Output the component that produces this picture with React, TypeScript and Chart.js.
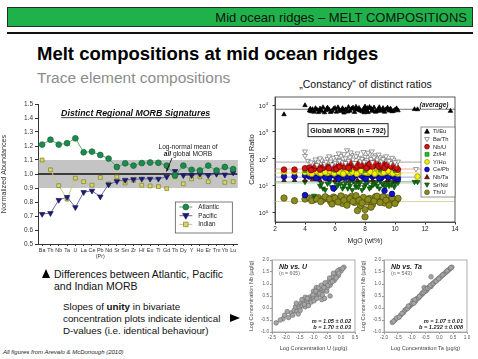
import React, { useEffect, useRef } from 'react';
import { Chart, registerables } from 'chart.js';

Chart.register(...registerables);

const FONT = '"Liberation Sans", Arial, Helvetica, sans-serif';
Chart.defaults.font.family = FONT;

// ---------------- Left chart: Distinct Regional MORB Signatures ----------------
const elementLabels: (string | string[])[] = [
  'Ba', 'Th', 'Nb', 'Ta', 'U', 'La', 'Ce', ['Pb', '(Pr)'], 'Nd', 'Sr', 'Sm', 'Zr',
  'Hf', 'Eu', 'Ti', 'Gd', 'Tb', 'Dy', 'Y', 'Ho', 'Er', 'Tm', 'Yb', 'Lu',
];
const atlanticValues = [1.21, 1.245, 1.21, 1.22, 1.255, 1.155, 1.16, 1.136, 1.11, 1.05, 1.076, 1.06,
  1.078, 1.082, 1.08, 1.06, 0.99, 1.06, 1.03, 1.025, 1.06, 1.025, 1.05, 1.035];
const pacificValues = [0.714, 0.72, 0.814, 0.835, 0.762, 0.87, 0.88, 0.838, 0.925, 0.948, 0.957, 0.962,
  0.965, 0.965, 0.965, 0.98, 1.02, 0.99, 0.99, 1.0, 0.99, 1.0, 0.995, 1.01];
const indianValues = [1.10, 1.03, 0.917, 0.82, 0.97, 0.945, 0.92, 0.975, 0.93, 0.98, 0.935, 0.955,
  0.92, 0.915, 0.91, 0.895, 0.98, 0.93, 0.965, 0.98, 0.945, 1.01, 0.94, 0.945];
const seriesNames = ['Atlantic', 'Pacific', 'Indian'];

// ---------------- Right chart: canonical ratios vs MgO ----------------
const tiEu = [[2.6, 4500], [4.0, 9800], [4.3, 6200], [4.5, 7000], [4.6, 5600], [4.8, 6600], [5.0, 7400], [5.1, 6000],
  [5.3, 5300], [5.5, 8000], [5.6, 6800], [5.8, 6000], [5.9, 7200], [6.1, 5600], [6.2, 8200], [6.3, 6500], [6.5, 7600],
  [6.6, 5200], [6.7, 6900], [6.9, 8400], [7.0, 6100], [7.1, 7300], [7.3, 5500], [7.4, 8600], [7.5, 6700], [7.6, 7800],
  [7.8, 5800], [7.9, 7100], [8.0, 8800], [8.1, 6300], [8.2, 5400], [8.4, 7500], [8.5, 6600], [8.6, 8100], [8.8, 5900],
  [8.9, 7000], [9.0, 6400], [9.2, 7700], [9.3, 5600], [9.4, 6900], [9.6, 6200], [9.7, 7400], [9.9, 6000], [10.0, 6700],
  [10.2, 6300], [11.3, 7000], [11.5, 6900], [13.7, 6000],
  [4.4, 5800], [4.7, 7600], [4.9, 5400], [5.2, 8200], [5.4, 6400], [5.7, 5500], [6.0, 7800], [6.4, 5900], [6.8, 6300],
  [7.2, 8000], [7.7, 6200], [8.3, 8400], [8.7, 5600], [9.1, 6100], [9.5, 8000], [9.8, 5800], [10.1, 7500], [5.45, 7100],
  [6.85, 5700], [7.35, 7000], [7.95, 5300], [8.45, 6000], [8.95, 8300], [9.65, 6600], [4.35, 7300], [5.05, 6500],
  [6.55, 6800], [7.65, 6500], [8.15, 7700], [9.25, 6700]];
const baTh = [[4.0, 190], [4.0, 130], [4.2, 85], [4.5, 70], [4.7, 95], [4.9, 75], [5.1, 88], [5.3, 65], [5.5, 100],
  [5.7, 80], [5.9, 110], [6.0, 72], [6.2, 92], [6.4, 130], [6.5, 78], [6.7, 105], [6.8, 210], [6.9, 85], [7.1, 140],
  [7.2, 95], [7.3, 70], [7.5, 160], [7.6, 110], [7.7, 82], [7.9, 180], [8.0, 120], [8.1, 90], [8.3, 150], [8.4, 100],
  [8.5, 75], [8.7, 135], [8.8, 95], [9.0, 115], [9.1, 80], [9.3, 105], [9.5, 88], [9.7, 70], [9.9, 95], [10.1, 65],
  [10.2, 80], [11.4, 42],
  [4.4, 75], [4.8, 60], [5.0, 105], [5.4, 78], [5.6, 125], [5.8, 62], [6.1, 118], [6.3, 85], [6.6, 150], [6.7, 70],
  [7.0, 115], [7.4, 125], [7.8, 100], [7.95, 78], [8.2, 170], [8.6, 115], [8.9, 145], [9.2, 98], [9.4, 125], [9.6, 85],
  [9.8, 110], [10.0, 75], [7.05, 175], [8.45, 190], [6.25, 160]];
const nbU = [[2.6, 40], [3.3, 40], [4.0, 45], [4.3, 48], [4.6, 42], [4.9, 50], [5.2, 46], [5.5, 52], [5.8, 44], [6.0, 55],
  [6.2, 48], [6.4, 60], [6.6, 50], [6.8, 65], [7.0, 53], [7.2, 58], [7.4, 47], [7.6, 68], [7.8, 55], [8.0, 62], [8.2, 50],
  [8.4, 72], [8.6, 56], [8.8, 60], [9.0, 48], [9.2, 66], [9.4, 54], [9.6, 70], [9.8, 50], [10.0, 45], [10.2, 40],
  [4.4, 38], [4.7, 55], [5.0, 40], [5.3, 58], [5.6, 45], [5.9, 62], [6.1, 42], [6.3, 52], [6.5, 70], [6.9, 46], [7.1, 75],
  [7.3, 62], [7.5, 52], [7.7, 58], [7.9, 78], [8.1, 45], [8.3, 64], [8.5, 52], [8.7, 75], [8.9, 53], [9.1, 58], [9.3, 46],
  [9.5, 60], [9.7, 55], [9.9, 62], [10.1, 48]];
const zrHf = [[4.0, 36], [5.0, 37], [6.0, 36], [7.0, 38], [8.0, 36], [9.0, 37], [10.0, 36]];
const yHo = [[2.6, 33], [3.3, 33], [4.0, 32], [4.3, 30], [4.6, 33], [4.9, 31], [5.2, 34], [5.5, 30], [5.8, 32], [6.1, 35],
  [6.4, 31], [6.7, 33], [7.0, 30], [7.3, 34], [7.6, 31], [7.9, 33], [8.2, 30], [8.5, 35], [8.8, 32], [9.1, 30], [9.4, 33],
  [9.7, 31], [10.0, 30], [10.2, 28], [11.5, 22],
  [4.45, 28], [4.75, 35], [5.05, 29], [5.35, 32], [5.65, 36], [5.95, 29], [6.25, 33], [6.55, 28], [6.85, 35], [7.15, 32],
  [7.45, 28], [7.75, 36], [8.05, 31], [8.35, 33], [8.65, 28], [8.95, 34], [9.25, 31], [9.55, 36], [9.85, 29], [10.15, 32]];
const cePb = [[2.6, 22], [3.3, 22], [4.0, 24], [4.0, 4.5], [4.3, 22], [4.6, 25], [4.9, 21], [5.2, 26], [5.5, 23], [5.6, 19],
  [5.8, 27], [6.1, 22], [6.4, 25], [6.7, 20], [7.0, 26], [7.3, 23], [7.6, 28], [7.9, 21], [8.2, 25], [8.5, 22], [8.8, 27],
  [9.1, 20], [9.4, 24], [9.7, 22], [9.8, 5], [10.0, 19], [10.2, 18],
  [4.45, 27], [4.75, 19], [5.05, 24], [5.35, 20], [5.65, 28], [5.95, 24], [6.25, 18], [6.55, 27], [6.85, 23], [7.15, 19],
  [7.45, 26], [7.75, 24], [8.05, 18], [8.35, 28], [8.65, 24], [8.95, 19], [9.25, 26], [9.55, 21], [9.85, 25], [10.15, 22],
  [9.3, 6.5], [5.9, 8]];
const nbTa = [[2.6, 16], [3.3, 16], [4.0, 16], [4.5, 17], [5.0, 16], [5.5, 17], [6.0, 16], [6.5, 18], [7.0, 17], [7.5, 16],
  [8.0, 17], [8.5, 16], [9.0, 17], [9.5, 16], [10.0, 15]];
const srNd = [[4.0, 14], [5.0, 10], [5.2, 8], [5.5, 12], [5.8, 9], [6.0, 14], [6.2, 11], [6.5, 8], [6.7, 13], [7.0, 10],
  [7.2, 15], [7.4, 9], [7.6, 12], [7.8, 7], [8.0, 11], [8.2, 14], [8.4, 9], [8.6, 12], [8.8, 10], [9.0, 15], [9.2, 11],
  [9.4, 13], [9.6, 10], [9.8, 14], [10.0, 12], [11.3, 14], [11.5, 14],
  [5.1, 12], [5.35, 7], [5.65, 14], [5.95, 7.5], [6.1, 9], [6.35, 12], [6.6, 10], [6.85, 8], [6.95, 13], [7.15, 7],
  [7.35, 12], [7.55, 9], [7.7, 14], [7.95, 9], [8.1, 13], [8.3, 8], [8.55, 11], [8.75, 14], [8.95, 8], [9.15, 12],
  [9.35, 9], [9.55, 14], [9.75, 11], [9.95, 9], [10.2, 13], [4.6, 4.3]];
const thU = [[2.6, 3.5], [3.3, 2.8], [4.0, 3.2], [4.3, 3.5], [4.6, 3.0], [4.9, 3.6], [5.2, 3.1], [5.5, 3.4], [5.7, 2.6],
  [5.9, 3.8], [6.1, 2.9], [6.3, 3.3], [6.5, 2.2], [6.7, 3.6], [6.9, 2.7], [7.1, 4.0], [7.3, 2.4], [7.5, 3.2], [7.7, 1.8],
  [7.9, 3.7], [8.0, 0.7], [8.1, 2.5], [8.3, 3.4], [8.5, 2.0], [8.7, 3.9], [8.9, 2.8], [9.1, 3.3], [9.3, 2.3], [9.5, 3.6],
  [9.7, 2.6], [9.9, 3.1], [10.1, 2.9], [10.2, 3.4],
  [4.45, 2.8], [4.75, 3.3], [5.05, 2.6], [5.35, 3.9], [5.65, 3.2], [5.8, 2.1], [6.0, 3.5], [6.2, 2.5], [6.4, 4.2],
  [6.6, 2.9], [6.8, 1.9], [7.0, 3.3], [7.2, 2.6], [7.4, 4.3], [7.6, 2.9], [7.8, 2.3], [8.2, 3.1], [8.4, 1.6], [8.6, 2.7],
  [8.8, 4.1], [9.0, 2.4], [9.2, 3.9], [9.4, 2.9], [9.6, 1.9], [9.8, 3.5], [10.0, 2.2], [8.0, 1.3], [7.5, 1.2]];
const ratioLabels = ['Ti/Eu', 'Ba/Th', 'Nb/U', 'Zr/Hf', 'Y/Ho', 'Ce/Pb', 'Nb/Ta', 'Sr/Nd', 'Th/U'];
const ratioData = [tiEu, baTh, nbU, zrHf, yHo, cePb, nbTa, srNd, thU];
const averageRatios = [7000, 76, 42, 30, 21, 14.5, 12.8, 2.6];
const mgoTicks = [2, 4, 6, 8, 10, 12, 14];
const ratioPowers = [0, 1, 2, 3, 4];

// ---------------- Small bivariate plots ----------------
const nbVsU = [[-2.35, -0.62], [-2.1, -0.45], [-2.05, -0.3], [-1.9, -0.4], [-1.8, -0.2], [-1.7, -0.1], [-1.65, 0.05],
  [-1.6, -0.15], [-1.55, 0.1], [-1.5, 0.0], [-1.45, 0.2], [-1.4, 0.1], [-1.35, 0.25], [-1.3, 0.05], [-1.25, 0.3],
  [-1.2, 0.2], [-1.15, 0.45], [-1.1, 0.35], [-1.05, 0.5], [-1.0, 0.4], [-0.95, 0.6], [-0.9, 0.5], [-0.85, 0.7],
  [-0.8, 0.55], [-0.75, 0.8], [-0.7, 0.65], [-0.65, 0.9], [-0.6, 0.75], [-0.55, 1.0], [-0.5, 0.85], [-0.45, 1.1],
  [-0.4, 0.95], [-0.35, 1.2], [-0.3, 1.3], [-0.25, 1.15], [-0.2, 1.4], [-0.15, 1.5], [-0.1, 1.35], [-0.05, 1.6],
  [0.0, 1.55], [0.1, 1.7], [-0.7, 0.35], [-1.3, 0.45], [-0.9, 0.85], [-1.55, -0.25], [-1.0, 0.7],
  [-2.2, -0.5], [-1.95, -0.15], [-1.75, -0.3], [-1.62, 0.2], [-1.48, -0.1], [-1.42, 0.35], [-1.33, 0.15], [-1.22, 0.4],
  [-1.18, 0.1], [-1.08, 0.25], [-1.02, 0.55], [-0.98, 0.3], [-0.92, 0.7], [-0.88, 0.4], [-0.82, 0.85], [-0.78, 0.6],
  [-0.72, 0.95], [-0.68, 0.55], [-0.62, 0.85], [-0.58, 1.05], [-0.52, 0.7], [-0.48, 0.95], [-0.42, 1.25], [-0.38, 1.05],
  [-0.32, 1.1], [-0.28, 1.45], [-0.18, 1.25], [-0.12, 1.55], [-0.08, 1.45], [0.05, 1.65], [-0.6, 0.4], [-0.4, 0.5]];
const nbVsTa = [[-1.7, -0.6], [-1.6, -0.5], [-1.5, -0.4], [-1.4, -0.3], [-1.3, -0.2], [-1.25, -0.1], [-1.2, -0.05],
  [-1.1, 0.05], [-1.05, 0.1], [-1.0, 0.15], [-0.9, 0.25], [-0.85, 0.3], [-0.8, 0.4], [-0.7, 0.5], [-0.65, 0.55],
  [-0.6, 0.6], [-0.5, 0.7], [-0.45, 0.75], [-0.4, 0.85], [-0.3, 0.9], [-0.25, 1.0], [-0.2, 1.05], [-0.1, 1.15],
  [-0.05, 1.2], [0.0, 1.25], [0.1, 1.35], [0.15, 1.4], [0.2, 1.45], [0.3, 1.55], [0.35, 1.6], [0.45, 1.7],
  [-0.55, 0.85], [-0.95, 0.3], [0.05, 1.3],
  [-1.65, -0.55], [-1.55, -0.42], [-1.45, -0.38], [-1.35, -0.22], [-1.15, -0.02], [-1.12, 0.08], [-0.98, 0.2],
  [-0.92, 0.2], [-0.88, 0.35], [-0.75, 0.42], [-0.72, 0.48], [-0.62, 0.62], [-0.58, 0.65], [-0.52, 0.72], [-0.48, 0.8],
  [-0.42, 0.82], [-0.35, 0.88], [-0.32, 0.95], [-0.22, 1.02], [-0.15, 1.1], [-0.12, 1.12], [-0.02, 1.22], [0.12, 1.38],
  [0.25, 1.5], [0.28, 1.55], [0.4, 1.65], [0.42, 1.68], [-0.3, 1.3]];

// ---------------- styles ----------------
type Look = { shape: string; fill: string; stroke: string; r: number };
const seriesLooks: { line: string; look: Look }[] = [
  { line: '#5aa872', look: { shape: 'circle', fill: '#1e8a4c', stroke: '#14663a', r: 2.9 } },
  { line: '#6a6aa8', look: { shape: 'triDown', fill: '#1b1b66', stroke: '#1b1b66', r: 3.2 } },
  { line: '#c8c884', look: { shape: 'rect', fill: '#d6d66c', stroke: '#808028', r: 2.7 } },
];
const ratioLooks: Look[] = [
  { shape: 'triangle', fill: '#000', stroke: '#000', r: 2.6 },
  { shape: 'triDown', fill: '#fff', stroke: '#707070', r: 2.9 },
  { shape: 'circle', fill: '#d41414', stroke: '#6a0000', r: 2.8 },
  { shape: 'rect', fill: '#22bb22', stroke: '#118811', r: 2.3 },
  { shape: 'circle', fill: '#f2f200', stroke: '#8a8a00', r: 2.8 },
  { shape: 'circle', fill: '#1212c8', stroke: '#000070', r: 2.8 },
  { shape: 'triangle', fill: '#7a1414', stroke: '#3a0000', r: 2.5 },
  { shape: 'triDown', fill: '#127012', stroke: '#0a4a0a', r: 2.9 },
  { shape: 'circle', fill: '#8c8c1e', stroke: '#4a4a10', r: 3.2 },
];
const averageColors = ['#666', '#9a9a9a', '#f09a9a', '#ead872', '#9494ea', '#aabaaa', '#92c892', '#d2d29c'];

function drawMarker(ctx: CanvasRenderingContext2D, l: Look, x: number, y: number) {
  const r = l.r;
  ctx.save();
  ctx.beginPath();
  if (l.shape === 'circle') ctx.arc(x, y, r, 0, Math.PI * 2);
  else if (l.shape === 'rect') ctx.rect(x - r * 0.85, y - r * 0.85, r * 1.7, r * 1.7);
  else if (l.shape === 'triangle') { ctx.moveTo(x, y - r * 1.1); ctx.lineTo(x + r, y + r * 0.7); ctx.lineTo(x - r, y + r * 0.7); ctx.closePath(); }
  else { ctx.moveTo(x, y + r * 1.1); ctx.lineTo(x + r, y - r * 0.7); ctx.lineTo(x - r, y - r * 0.7); ctx.closePath(); }
  ctx.fillStyle = l.fill; ctx.fill();
  ctx.strokeStyle = l.stroke; ctx.lineWidth = 0.7; ctx.stroke();
  ctx.restore();
}

function chartPointStyle(l: Look) {
  return {
    pointStyle: l.shape === 'triDown' ? 'triangle' : l.shape,
    pointRotation: l.shape === 'triDown' ? 180 : 0,
    pointRadius: l.r,
    pointBackgroundColor: l.fill,
    pointBorderColor: l.stroke,
    pointBorderWidth: 0.7,
  };
}

// ---------------- builders ----------------
function buildLeft(canvas: HTMLCanvasElement) {
  const deco = {
    id: 'leftDeco',
    beforeDatasetsDraw(chart: any) {
      const { ctx, chartArea: a } = chart;
      const y = chart.scales.y;
      const t = y.getPixelForValue(1.1), b = y.getPixelForValue(0.9), m = y.getPixelForValue(1.0);
      ctx.save();
      ctx.fillStyle = '#c4c4c4';
      ctx.fillRect(a.left + 0.5, t, a.right - a.left, b - t);
      ctx.strokeStyle = '#111'; ctx.lineWidth = 1.6;
      ctx.beginPath(); ctx.moveTo(a.left, m); ctx.lineTo(a.right, m); ctx.stroke();
      ctx.restore();
    },
    afterDatasetsDraw(chart: any) {
      const { ctx, chartArea: a } = chart;
      const y = chart.scales.y;
      const m = y.getPixelForValue(1.0);
      ctx.save();
      ctx.fillStyle = '#111';
      ctx.textBaseline = 'alphabetic';
      ctx.font = `italic bold 8.8px ${FONT}`;
      ctx.textAlign = 'center';
      const title = 'Distinct Regional MORB Signatures';
      const tx = a.left + (a.right - a.left) * 0.49, ty = a.top + 12;
      ctx.fillText(title, tx, ty);
      const tw = ctx.measureText(title).width;
      ctx.fillRect(tx - tw / 2, ty + 1.3, tw, 0.8);
      const cx = a.left + 150;
      ctx.font = `6.6px ${FONT}`;
      ctx.fillStyle = '#222';
      ctx.fillText('Log-normal mean of', cx, m - 25);
      ctx.textAlign = 'left';
      ctx.font = `italic bold 6.6px ${FONT}`;
      const w1 = ctx.measureText('all').width;
      ctx.font = `6.6px ${FONT}`;
      const w2 = ctx.measureText(' global MORB').width;
      const sx = cx - (w1 + w2) / 2;
      ctx.font = `italic bold 6.6px ${FONT}`;
      ctx.fillText('all', sx, m - 18.5);
      ctx.font = `6.6px ${FONT}`;
      ctx.fillText(' global MORB', sx + w1, m - 18.5);
      const x0 = a.left + 134, y0 = m - 16, x1 = a.left + 128.5, y1 = m - 2.5;
      ctx.strokeStyle = '#111'; ctx.lineWidth = 0.9;
      ctx.beginPath(); ctx.moveTo(x0, y0); ctx.lineTo(x1, y1); ctx.stroke();
      const ang = Math.atan2(y1 - y0, x1 - x0);
      ctx.beginPath();
      ctx.moveTo(x1, y1);
      ctx.lineTo(x1 - 3.5 * Math.cos(ang - 0.4), y1 - 3.5 * Math.sin(ang - 0.4));
      ctx.lineTo(x1 - 3.5 * Math.cos(ang + 0.4), y1 - 3.5 * Math.sin(ang + 0.4));
      ctx.closePath(); ctx.fillStyle = '#111'; ctx.fill();
      const lx = a.right - 62, ly = a.bottom - 42;
      ctx.fillStyle = '#fff';
      ctx.fillRect(lx, ly, 57, 31);
      ctx.strokeStyle = '#444'; ctx.lineWidth = 0.7;
      ctx.strokeRect(lx, ly, 57, 31);
      seriesNames.forEach((name, i) => {
        const yy = ly + 5 + i * 8.7;
        ctx.strokeStyle = seriesLooks[i].line; ctx.lineWidth = 1;
        ctx.beginPath(); ctx.moveTo(lx + 4, yy); ctx.lineTo(lx + 17, yy); ctx.stroke();
        drawMarker(ctx, seriesLooks[i].look, lx + 10.5, yy);
        ctx.fillStyle = '#222'; ctx.font = `6.3px ${FONT}`; ctx.textAlign = 'left'; ctx.textBaseline = 'middle';
        ctx.fillText(name, lx + 23, yy + 0.3);
      });
      ctx.restore();
    },
  };
  const values = [atlanticValues, pacificValues, indianValues];
  return new Chart(canvas, {
    type: 'line',
    data: {
      labels: elementLabels as any,
      datasets: values.map((v, i) => ({
        label: seriesNames[i],
        data: v,
        borderColor: seriesLooks[i].line,
        borderWidth: 1,
        tension: 0,
        ...chartPointStyle(seriesLooks[i].look),
      })) as any,
    },
    options: {
      animation: false,
      responsive: false,
      layout: { padding: { top: 8, right: 4, left: 0, bottom: 0 } },
      plugins: { legend: { display: false }, tooltip: { enabled: false } },
      scales: {
        x: {
          offset: true,
          grid: { display: true, drawOnChartArea: false, tickLength: 2, color: '#333' },
          border: { color: '#333', width: 1 },
          ticks: { font: { size: 5.4 }, color: '#333', maxRotation: 0, autoSkip: false, padding: 1 },
          afterFit: (s: any) => { s.height = 18; },
        },
        y: {
          min: 0.5, max: 1.5,
          grid: { display: true, drawOnChartArea: false, tickLength: 3, color: '#333' },
          border: { color: '#333', width: 1 },
          ticks: { stepSize: 0.1, font: { size: 6.5 }, color: '#333', padding: 2, callback: (v: any) => Number(v).toFixed(1) },
          title: { display: true, text: 'Normalized Abundances', font: { size: 7.2 }, color: '#333', padding: 0 },
          afterFit: (s: any) => { s.width = 38; },
        },
      },
    } as any,
    plugins: [deco],
  });
}

function buildRight(canvas: HTMLCanvasElement) {
  const deco = {
    id: 'rightDeco',
    beforeDatasetsDraw(chart: any) {
      const { ctx, chartArea: a } = chart;
      const y = chart.scales.y;
      ctx.save();
      averageRatios.forEach((v, i) => {
        const py = y.getPixelForValue(v);
        ctx.strokeStyle = averageColors[i]; ctx.lineWidth = 0.9;
        ctx.beginPath(); ctx.moveTo(a.left, py); ctx.lineTo(a.right, py); ctx.stroke();
      });
      ctx.restore();
    },
    afterDraw(chart: any) {
      const { ctx, chartArea: a } = chart;
      const x = chart.scales.x, y = chart.scales.y;
      ctx.save();
      ctx.strokeStyle = '#333'; ctx.lineWidth = 0.8;
      ctx.strokeRect(a.left, a.top, a.right - a.left, a.bottom - a.top);
      ratioPowers.forEach((p) => {
        const py = y.getPixelForValue(Math.pow(10, p));
        ctx.fillStyle = '#222';
        ctx.font = `6px ${FONT}`; ctx.textAlign = 'right'; ctx.textBaseline = 'middle';
        ctx.fillText('10', a.left - 9.5, py + 1);
        ctx.font = `4.2px ${FONT}`; ctx.textAlign = 'left';
        ctx.fillText(String(p), a.left - 9.3, py - 1.3);
      });
      ctx.fillStyle = '#222';
      ctx.font = `italic bold 6.5px ${FONT}`; ctx.textAlign = 'center'; ctx.textBaseline = 'alphabetic';
      ctx.fillText('(average)', x.getPixelForValue(12.6), y.getPixelForValue(7000) - 2.5);
      const bx = x.getPixelForValue(6.87), by = y.getPixelForValue(1170);
      ctx.fillStyle = '#fff';
      ctx.fillRect(bx - 40, by - 6.5, 80, 13);
      ctx.strokeStyle = '#222'; ctx.lineWidth = 1;
      ctx.strokeRect(bx - 40, by - 6.5, 80, 13);
      ctx.fillStyle = '#111';
      ctx.font = `bold 7px ${FONT}`; ctx.textBaseline = 'middle';
      ctx.fillText('Global MORB (n = 792)', bx, by + 0.5);
      const lx = a.right - 34, ly = a.top + 30, lw = 34, lh = 70;
      ctx.fillStyle = '#fff'; ctx.fillRect(lx, ly, lw, lh);
      ctx.strokeStyle = '#666'; ctx.lineWidth = 0.7; ctx.strokeRect(lx, ly, lw, lh);
      ratioLabels.forEach((name, i) => {
        const yy = ly + 4.5 + i * 7.6;
        drawMarker(ctx, { ...ratioLooks[i], r: Math.min(ratioLooks[i].r, 2.4) }, lx + 6, yy);
        ctx.fillStyle = '#222'; ctx.font = `5.8px ${FONT}`; ctx.textAlign = 'left'; ctx.textBaseline = 'middle';
        ctx.fillText(name, lx + 12, yy + 0.3);
      });
      ctx.restore();
    },
  };
  return new Chart(canvas, {
    type: 'scatter',
    data: {
      datasets: ratioData.map((pts, i) => ({
        label: ratioLabels[i],
        data: pts.map(([px, py]) => ({ x: px, y: py })),
        showLine: false,
        ...chartPointStyle(ratioLooks[i]),
      })) as any,
    },
    options: {
      animation: false,
      responsive: false,
      layout: { padding: { top: 7, right: 23, left: 0, bottom: 0 } },
      plugins: { legend: { display: false }, tooltip: { enabled: false } },
      scales: {
        x: {
          type: 'linear', min: 2, max: 14,
          afterBuildTicks: (s: any) => { s.ticks = mgoTicks.map((v) => ({ value: v })); },
          grid: { display: true, drawOnChartArea: false, tickLength: 2.5, color: '#333' },
          border: { color: '#333', width: 0.8 },
          ticks: { font: { size: 6.5 }, color: '#222', padding: 1, maxRotation: 0 },
          title: { display: true, text: 'MgO (wt%)', font: { size: 7 }, color: '#222', padding: { top: 1, bottom: 0 } },
          afterFit: (s: any) => { s.height = 23; },
        },
        y: {
          type: 'logarithmic', min: 0.45, max: 20000,
          afterBuildTicks: (s: any) => { s.ticks = ratioPowers.map((p) => ({ value: Math.pow(10, p) })); },
          grid: { display: true, drawOnChartArea: false, tickLength: 2.5, color: '#333' },
          border: { color: '#333', width: 0.8 },
          ticks: { display: false },
          title: { display: true, text: 'Canonical Ratio', font: { size: 7.2 }, color: '#222', padding: 0 },
          afterFit: (s: any) => { s.width = 27; },
        },
      },
    } as any,
    plugins: [deco],
  });
}

function buildSmall(canvas: HTMLCanvasElement, pts: number[][], xMin: number, xMax: number, xName: string,
  name: string, n: string, mText: string, bText: string, padRight: number) {
  const deco = {
    id: 'smallDeco',
    afterDraw(chart: any) {
      const { ctx, chartArea: a } = chart;
      ctx.save();
      ctx.strokeStyle = '#9a9a9a'; ctx.lineWidth = 0.8;
      ctx.strokeRect(a.left, a.top, a.right - a.left, a.bottom - a.top);
      ctx.fillStyle = '#222'; ctx.textBaseline = 'alphabetic'; ctx.textAlign = 'left';
      ctx.font = `italic bold 7px ${FONT}`;
      ctx.fillText(name, a.left + 7, a.top + 8.5);
      ctx.fillStyle = '#666'; ctx.font = `5.2px ${FONT}`;
      ctx.fillText(n, a.left + 7, a.top + 15);
      ctx.fillStyle = '#222'; ctx.font = `italic bold 5.6px ${FONT}`; ctx.textAlign = 'right';
      ctx.fillText(mText, a.right - 4, a.bottom - 9);
      ctx.fillText(bText, a.right - 4, a.bottom - 3);
      ctx.restore();
    },
  };
  return new Chart(canvas, {
    type: 'scatter',
    data: {
      datasets: [{
        data: pts.map(([px, py]) => ({ x: px, y: py })),
        pointRadius: 2.3,
        pointBackgroundColor: '#a6a6a6',
        pointBorderColor: '#6c6c6c',
        pointBorderWidth: 0.6,
      }] as any,
    },
    options: {
      animation: false,
      responsive: false,
      layout: { padding: { top: 8, right: padRight, left: 0, bottom: 0 } },
      plugins: { legend: { display: false }, tooltip: { enabled: false } },
      scales: {
        x: {
          type: 'linear', min: xMin, max: xMax,
          grid: { display: true, drawOnChartArea: false, tickLength: 2, color: '#999' },
          border: { color: '#999', width: 0.8 },
          ticks: { stepSize: 0.5, font: { size: 4.6 }, color: '#555', padding: 1, maxRotation: 0, callback: (v: any) => Number(v).toFixed(1) },
          title: { display: true, text: `Log Concentration ${xName} (µg/g)`, font: { size: 5.6 }, color: '#444', padding: { top: 1, bottom: 0 } },
          afterFit: (s: any) => { s.height = 20; },
        },
        y: {
          type: 'linear', min: -1, max: 2,
          grid: { display: true, drawOnChartArea: false, tickLength: 2, color: '#999' },
          border: { color: '#999', width: 0.8 },
          ticks: { stepSize: 0.5, font: { size: 4.6 }, color: '#555', padding: 1, callback: (v: any) => Number(v).toFixed(1) },
          title: { display: true, text: 'Log Concentration Nb (µg/g)', font: { size: 5.6 }, color: '#444', padding: 0 },
          afterFit: (s: any) => { s.width = 24; },
        },
      },
    } as any,
    plugins: [deco],
  });
}

// ---------------- components ----------------
function ChartPanel({ left, top, width, height, build }: { left: number; top: number; width: number; height: number; build: (c: HTMLCanvasElement) => Chart }) {
  const ref = useRef<HTMLCanvasElement | null>(null);
  useEffect(() => {
    const chart = build(ref.current as HTMLCanvasElement);
    return () => chart.destroy();
  }, []);
  return (
    <div style={{ position: 'absolute', left, top, width, height }}>
      <canvas ref={ref} width={width} height={height} style={{ display: 'block', width, height }} />
    </div>
  );
}

function Txt({ x, base, size, children, align = 'left', weight = 'normal', color = '#000', italic = false }:
  { x: number; base: number; size: number; children: React.ReactNode; align?: string; weight?: string; color?: string; italic?: boolean }) {
  const top = base - 0.8465 * size;
  const style: React.CSSProperties = {
    position: 'absolute', top, fontSize: size, lineHeight: `${size}px`, whiteSpace: 'nowrap',
    fontWeight: weight as any, color, fontStyle: italic ? 'italic' : 'normal', fontFamily: FONT,
  };
  if (align === 'right') { style.right = 478 - x; style.textAlign = 'right'; }
  else if (align === 'center') { style.left = x - 150; style.width = 300; style.textAlign = 'center'; }
  else style.left = x;
  return <div style={style}>{children}</div>;
}

export default function App() {
  return (
    <div style={{ position: 'fixed', left: 0, top: 0, width: 478, height: 359, background: '#fff', overflow: 'hidden', fontFamily: FONT }}>
      <div style={{ position: 'absolute', left: 7, top: 7, width: 466, height: 20, background: '#1fb24a', border: '1px solid #2a2a2a', boxSizing: 'border-box' }} />
      <Txt x={467} base={22} size={13} align="right" color="#111">Mid ocean ridges – MELT COMPOSITIONS</Txt>
      <div style={{ position: 'absolute', left: 7, top: 32, width: 466, height: 2, background: '#111' }} />
      <Txt x={37} base={61} size={18.5} weight="bold">Melt compositions at mid ocean ridges</Txt>
      <Txt x={37} base={83.5} size={15.5} color="#8c8c8c">Trace element compositions</Txt>
      <Txt x={365.5} base={87.5} size={10.5} align="center" color="#111">„Constancy“ of distinct ratios</Txt>

      <ChartPanel left={0} top={96} width={242} height={166} build={buildLeft} />
      <ChartPanel left={248} top={90} width={230} height={155} build={buildRight} />
      <ChartPanel left={248} top={252} width={112} height={100}
        build={(c) => buildSmall(c, nbVsU, -2.5, 0.5, 'U', 'Nb vs. U', '(n = 605)', 'm = 1.05 ± 0.02', 'b = 1.70 ± 0.03', 5)} />
      <ChartPanel left={360} top={252} width={118} height={100}
        build={(c) => buildSmall(c, nbVsTa, -2.0, 1.0, 'Ta', 'Nb vs. Ta', '(n = 543)', 'm = 1.07 ± 0.01', 'b = 1.232 ± 0.008', 11)} />

      <div style={{ position: 'absolute', left: 41.5, top: 268.5, width: 0, height: 0, borderLeft: '4.5px solid transparent', borderRight: '4.5px solid transparent', borderBottom: '9px solid #000' }} />
      <Txt x={54} base={277.5} size={10.5} color="#111">Differences between Atlantic, Pacific</Txt>
      <Txt x={54} base={290} size={10.5} color="#111">and Indian MORB</Txt>
      <Txt x={63} base={310.5} size={9.8} color="#111">Slopes of <b>unity</b> in bivariate</Txt>
      <Txt x={63} base={322.3} size={9.8} color="#111">concentration plots indicate identical</Txt>
      <Txt x={63} base={334.2} size={9.8} color="#111">D-values (i.e. identical behaviour)</Txt>
      <div style={{ position: 'absolute', left: 230, top: 314, width: 0, height: 0, borderTop: '4.5px solid transparent', borderBottom: '4.5px solid transparent', borderLeft: '10px solid #000' }} />
      <Txt x={3} base={354.5} size={6} italic color="#222">All figures from Arevalo &amp; McDonough  (2010)</Txt>
    </div>
  );
}
